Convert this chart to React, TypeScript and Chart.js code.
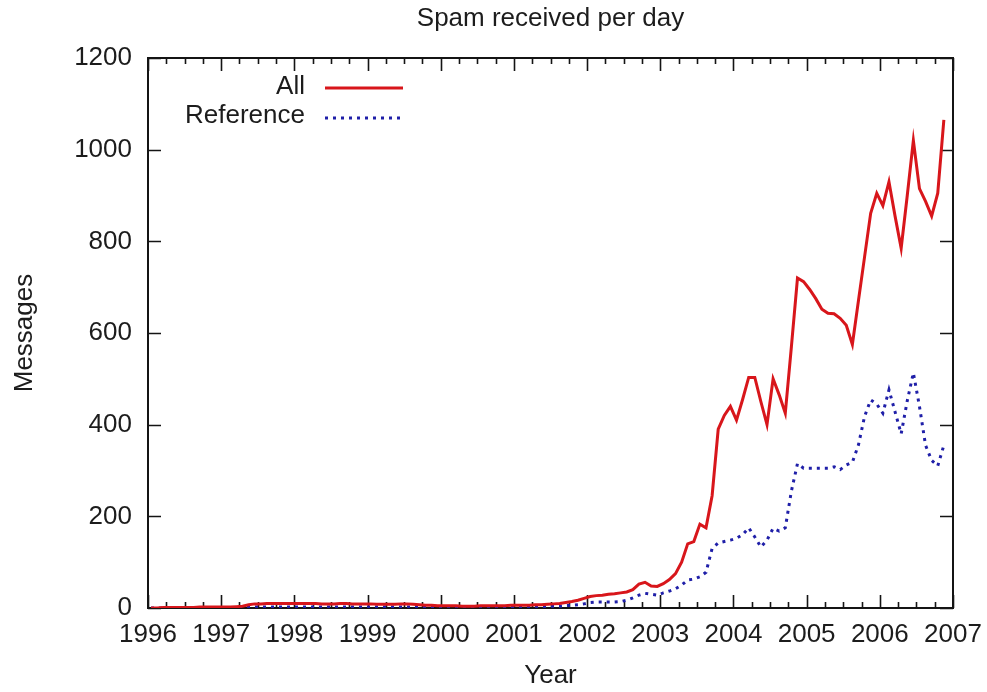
import React, { useEffect, useRef } from "react";
import { Chart, registerables } from "chart.js";

Chart.register(...registerables);

// ---- Data (monthly averages, Jan 1996 .. Nov 2006) ----
const YEARS = [1996, 1997, 1998, 1999, 2000, 2001, 2002, 2003, 2004, 2005, 2006];

const ALL_1996 = [0, 0, 1, 1, 1, 1, 1, 1, 2, 2, 2, 2];
const ALL_1997 = [2, 2, 3, 4, 7, 9, 9, 10, 10, 10, 10, 10];
const ALL_1998 = [10, 10, 10, 10, 9, 9, 9, 10, 10, 9, 9, 9];
const ALL_1999 = [9, 8, 8, 8, 8, 9, 9, 8, 7, 6, 6, 5];
const ALL_2000 = [5, 5, 5, 4, 4, 4, 5, 5, 5, 5, 5, 6];
const ALL_2001 = [6, 6, 6, 7, 7, 8, 9, 10, 12, 14, 17, 21];
const ALL_2002 = [25, 27, 28, 30, 31, 33, 35, 40, 52, 56, 48, 47];
const ALL_2003 = [53, 62, 75, 100, 140, 145, 183, 175, 245, 390, 420, 440];
const ALL_2004 = [410, 455, 503, 503, 450, 400, 500, 465, 425, 570, 720, 712];
const ALL_2005 = [695, 675, 652, 643, 642, 632, 617, 575, 671, 766, 861, 905];
const ALL_2006 = [878, 930, 855, 785, 900, 1020, 915, 887, 855, 905, 1065];

const REF_1996 = [0, 0, 0, 0, 1, 1, 1, 1, 1, 1, 1, 1];
const REF_1997 = [1, 1, 1, 1, 2, 2, 2, 2, 2, 2, 2, 2];
const REF_1998 = [2, 2, 2, 2, 2, 2, 2, 2, 2, 2, 2, 2];
const REF_1999 = [2, 2, 2, 2, 2, 2, 2, 2, 2, 2, 2, 2];
const REF_2000 = [2, 2, 2, 2, 2, 2, 2, 2, 2, 2, 3, 3];
const REF_2001 = [3, 3, 3, 3, 3, 3, 4, 4, 5, 6, 7, 9];
const REF_2002 = [12, 13, 13, 13, 13, 14, 17, 22, 28, 32, 30, 28];
const REF_2003 = [33, 37, 42, 50, 61, 63, 68, 78, 130, 142, 145, 148];
const REF_2004 = [152, 160, 175, 155, 133, 148, 174, 168, 175, 255, 315, 305];
const REF_2005 = [305, 305, 305, 305, 308, 302, 312, 318, 356, 418, 454, 445];
const REF_2006 = [425, 476, 428, 380, 452, 513, 440, 355, 322, 310, 355];

const ALL_BY_YEAR = [ALL_1996, ALL_1997, ALL_1998, ALL_1999, ALL_2000, ALL_2001, ALL_2002, ALL_2003, ALL_2004, ALL_2005, ALL_2006];
const REF_BY_YEAR = [REF_1996, REF_1997, REF_1998, REF_1999, REF_2000, REF_2001, REF_2002, REF_2003, REF_2004, REF_2005, REF_2006];

const X_MIN = 1996;
const X_MAX = 2007;
const Y_MIN = 0;
const Y_MAX = 1200;
const Y_STEP = 200;
const MINOR_FRACTIONS = [0.25, 0.5, 0.75];

const TITLE = "Spam received per day";
const X_TITLE = "Year";
const Y_TITLE = "Messages";
const LABEL_ALL = "All";
const LABEL_REF = "Reference";

const FONT = "'Liberation Sans', Arial, Helvetica, sans-serif";
const FONT_SIZE = 26;
const TEXT_COLOR = "#1c1c1c";
const RED = "#d8161b";
const BLUE = "#1f1fa8";

function toPoints(byYear: number[][]) {
  const pts: { x: number; y: number }[] = [];
  byYear.forEach((vals, yi) => {
    vals.forEach((v, m) => {
      pts.push({ x: YEARS[yi] + (m + 0.5) / 12, y: v });
    });
  });
  return pts;
}

const framePlugin = {
  id: "gnuFrame",
  beforeDatasetsDraw(chart: any) {
    const { ctx, chartArea: a, scales } = chart;
    const xs = scales.x;
    const ys = scales.y;
    ctx.save();
    ctx.strokeStyle = "#141414";
    ctx.lineWidth = 1.6;
    const MAJ = 13;
    const MIN = 6;
    ctx.beginPath();
    xs.ticks.forEach((t: any) => {
      const px = Math.round(xs.getPixelForValue(t.value)) + 0.5;
      ctx.moveTo(px, a.bottom);
      ctx.lineTo(px, a.bottom - MAJ);
      ctx.moveTo(px, a.top);
      ctx.lineTo(px, a.top + MAJ);
      if (t.value < X_MAX) {
        MINOR_FRACTIONS.forEach((f) => {
          const mx = Math.round(xs.getPixelForValue(t.value + f)) + 0.5;
          ctx.moveTo(mx, a.bottom);
          ctx.lineTo(mx, a.bottom - MIN);
          ctx.moveTo(mx, a.top);
          ctx.lineTo(mx, a.top + MIN);
        });
      }
    });
    ys.ticks.forEach((t: any) => {
      const py = Math.round(ys.getPixelForValue(t.value)) + 0.5;
      ctx.moveTo(a.left, py);
      ctx.lineTo(a.left + MAJ, py);
      ctx.moveTo(a.right, py);
      ctx.lineTo(a.right - MAJ, py);
    });
    ctx.stroke();
    ctx.lineWidth = 2;
    ctx.strokeRect(a.left, a.top, a.right - a.left, a.bottom - a.top);
    ctx.restore();
  },
};

const legendPlugin = {
  id: "gnuLegend",
  afterDraw(chart: any) {
    const { ctx, chartArea: a } = chart;
    ctx.save();
    ctx.font = `${FONT_SIZE}px ${FONT}`;
    ctx.fillStyle = TEXT_COLOR;
    ctx.textAlign = "right";
    ctx.textBaseline = "middle";
    const rows = [29, 58];
    chart.data.datasets.forEach((ds: any, i: number) => {
      const yText = a.top + rows[i];
      ctx.fillText(ds.label, a.left + 157, yText);
      const yLine = yText + (i === 0 ? 1 : 2);
      ctx.beginPath();
      ctx.strokeStyle = ds.borderColor;
      ctx.lineWidth = ds.borderWidth;
      ctx.setLineDash(ds.borderDash || []);
      ctx.moveTo(a.left + 177, yLine);
      ctx.lineTo(a.left + 255, yLine);
      ctx.stroke();
    });
    ctx.restore();
  },
};

export default function App() {
  const canvasRef = useRef<HTMLCanvasElement | null>(null);

  useEffect(() => {
    if (!canvasRef.current) return;
    const chart = new Chart(canvasRef.current, {
      type: "line",
      data: {
        datasets: [
          {
            label: LABEL_ALL,
            data: toPoints(ALL_BY_YEAR),
            borderColor: RED,
            borderWidth: 3,
            pointRadius: 0,
            tension: 0,
            fill: false,
          },
          {
            label: LABEL_REF,
            data: toPoints(REF_BY_YEAR),
            borderColor: BLUE,
            borderWidth: 3,
            borderDash: [3, 5],
            pointRadius: 0,
            tension: 0,
            fill: false,
          },
        ],
      },
      options: {
        animation: false,
        responsive: false,
        devicePixelRatio: 1,
        layout: { padding: { top: 0, left: 0, right: 34, bottom: 0 } },
        plugins: {
          legend: { display: false },
          tooltip: { enabled: false },
          title: {
            display: true,
            text: TITLE,
            fullSize: false,
            color: TEXT_COLOR,
            font: { family: FONT, size: FONT_SIZE, weight: "normal" },
            padding: { top: 3, bottom: 23.8 },
          },
        },
        scales: {
          x: {
            type: "linear",
            min: X_MIN,
            max: X_MAX,
            grid: { display: false },
            border: { display: false },
            ticks: {
              stepSize: 1,
              autoSkip: false,
              maxRotation: 0,
              padding: 3,
              color: TEXT_COLOR,
              font: { family: FONT, size: FONT_SIZE },
              callback: (v: any) => String(v),
            },
            title: {
              display: true,
              text: X_TITLE,
              color: TEXT_COLOR,
              font: { family: FONT, size: FONT_SIZE },
              padding: { top: 0, bottom: 1 },
            },
            afterFit: (s: any) => {
              s.height = 84;
              s.paddingLeft = 0;
              s.paddingRight = 0;
            },
          },
          y: {
            min: Y_MIN,
            max: Y_MAX,
            grid: { display: false },
            border: { display: false },
            ticks: {
              stepSize: Y_STEP,
              padding: 8,
              color: TEXT_COLOR,
              font: { family: FONT, size: FONT_SIZE },
              callback: (v: any) => String(v),
            },
            title: {
              display: true,
              text: Y_TITLE,
              color: TEXT_COLOR,
              font: { family: FONT, size: FONT_SIZE },
              padding: { top: 9, bottom: 0 },
            },
            afterFit: (s: any) => {
              s.width = 148;
            },
          },
        },
      },
      plugins: [framePlugin, legendPlugin],
    } as any);
    return () => chart.destroy();
  }, []);

  return (
    <div style={{ position: "absolute", left: 0, top: 0, width: 987, height: 692, background: "#fff" }}>
      <canvas ref={canvasRef} width={987} height={692} style={{ display: "block", width: 987, height: 692 }} />
    </div>
  );
}
